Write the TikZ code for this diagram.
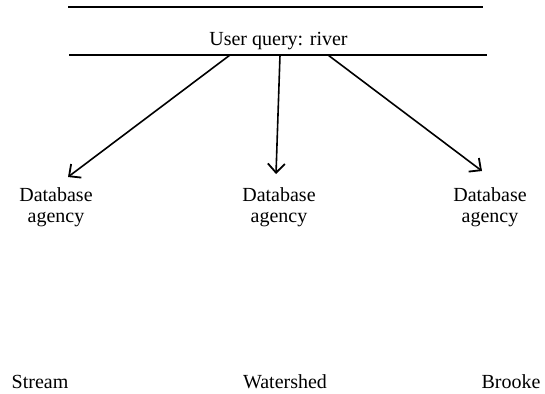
\documentclass[tikz,border=0pt]{standalone}
\usepackage{fontspec}
\setmainfont{Liberation Serif}
\usetikzlibrary{arrows.meta}
\begin{document}
\begin{tikzpicture}[x=1pt,y=-1pt,
  rule/.style={line width=1.8pt},
  link/.style={line width=1.6pt,-{Straight Barb[length=9pt,width=17pt,line width=1.8pt]}},
  lbl/.style={anchor=base,inner sep=0pt,align=center,font=\fontsize{20}{21}\selectfont}]
\useasboundingbox (0,0) rectangle (545,393);
\draw[rule] (68,7) -- (483,7);
\draw[rule] (69,55) -- (487,55);
\node[lbl] (q) at (278.5,46) {User query: river};
\coordinate (s1) at (230,55);
\coordinate (s2) at (280,55);
\coordinate (s3) at (328,55);
\coordinate (t1) at (68,177);
\coordinate (t2) at (276,174);
\coordinate (t3) at (482,171);
\node[lbl] (d1) at (56,222) {Database\\agency};
\node[lbl] (d2) at (279,222) {Database\\agency};
\node[lbl] (d3) at (490,222) {Database\\agency};
\draw[link] (s1) -- (t1);
\draw[link] (s2) -- (t2);
\draw[link] (s3) -- (t3);
\node[lbl] (b1) at (40,388) {Stream};
\node[lbl] (b2) at (285,388) {Watershed};
\node[lbl] (b3) at (511,388) {Brooke};
\end{tikzpicture}
\end{document}
